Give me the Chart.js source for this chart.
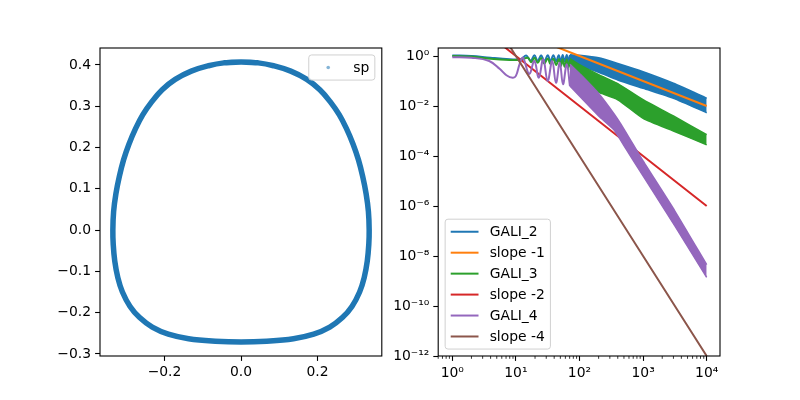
<!DOCTYPE html>
<html>
<head>
<meta charset="utf-8">
<script src="https://cdn.jsdelivr.net/npm/chart.js@4.4.0/dist/chart.umd.min.js"></script>
<style>
  html, body { margin: 0; padding: 0; background: #fff; }
  #wrap { position: relative; width: 800px; height: 400px; overflow: hidden; }
  canvas { position: absolute; top: 0; }
  #left { left: 0; }
  #right { left: 385px; }
</style>
</head>
<body>
<div id="wrap">
  <canvas id="left" width="400" height="400"></canvas>
  <canvas id="right" width="415" height="400"></canvas>
</div>
<script>
// ---------- left panel: surface of section "sp" ----------
const spX = [-0.045, 0, 0.045, 0.085, 0.13, 0.172, 0.206, 0.233, 0.257, 0.276, 0.293, 0.307, 0.318, 0.327, 0.333, 0.335, 0.334, 0.33,
  0.322, 0.31, 0.29, 0.265, 0.232, 0.19, 0.137, 0.067, 0,
  -0.067, -0.137, -0.19, -0.232, -0.265, -0.29, -0.31, -0.322, -0.33, -0.334, -0.335, -0.333, -0.327, -0.318, -0.307, -0.293,
  -0.276, -0.257, -0.233, -0.206, -0.172, -0.13, -0.085, -0.045, 0, 0.045];
const spY = [0.405, 0.407, 0.405, 0.398, 0.385, 0.365, 0.34, 0.311, 0.279, 0.245, 0.208, 0.17, 0.13, 0.088, 0.045, 0.0, -0.035, -0.075,
  -0.115, -0.15, -0.185, -0.212, -0.235, -0.252, -0.263, -0.269, -0.271,
  -0.269, -0.263, -0.252, -0.235, -0.212, -0.185, -0.15, -0.115, -0.075, -0.035, 0.0, 0.045, 0.088, 0.13, 0.17, 0.208,
  0.245, 0.279, 0.311, 0.34, 0.365, 0.385, 0.398, 0.405, 0.407, 0.405];
const leftXTicks = [-0.2, 0.0, 0.2];
const leftYTicks = [-0.3, -0.2, -0.1, 0.0, 0.1, 0.2, 0.3, 0.4];

// ---------- right panel: GALI curves (log-log) ----------
const slopeX = [1, 10, 100, 1000, 10000];
const slope1Y = [100, 10, 1, 0.1, 0.01];
const slope2Y = [100, 1, 0.01, 1e-4, 1e-6];
const slope4Y = [1e4, 1, 1e-4, 1e-8, 1e-12];

// early part: single oscillating trace
const gali2X = [1, 2, 4, 8, 12, 14.5, 17, 19.6, 22, 24.9, 28, 31.7, 35, 38.8, 43, 47.1, 51, 54.4, 58.5, 63, 67, 70.8];
const gali2Y = [1.05, 1.0, 0.85, 0.75, 0.75, 1.05, 0.65, 1.07, 0.63, 1.07, 0.63, 1.07, 0.62, 1.08, 0.62, 1.08, 0.6, 1.1, 0.6, 1.1, 0.58, 1.1];
const gali3X = [1, 2, 4, 8, 12, 15.4, 17.5, 19.6, 22, 24.9, 28, 31.7, 35, 38.8, 43, 47.1, 51, 54.4, 58.5, 63, 67, 70.8];
const gali3Y = [1.0, 0.95, 0.78, 0.7, 0.7, 0.85, 0.56, 0.85, 0.54, 0.83, 0.5, 0.8, 0.47, 0.78, 0.44, 0.76, 0.4, 0.74, 0.37, 0.72, 0.34, 0.7];
const gali4X = [1, 2, 3.8, 5.6, 7.1, 8.9, 10, 11.5, 12.9, 16.2, 19.5, 22.9, 26.9, 31.6, 37.2, 42.7, 49, 55, 63.1, 70.8];
const gali4Y = [0.9, 0.85, 0.63, 0.3, 0.17, 0.135, 0.16, 0.5, 0.85, 0.19, 0.63, 0.135, 0.74, 0.1, 0.63, 0.085, 0.54, 0.074, 0.47, 0.063];

// late part: oscillations too dense to resolve -> upper / lower envelope of the band
const gali2BandX = [70.8, 100, 200, 400, 1000, 3000, 10000];
const gali2Up = [1.12, 1.07, 0.85, 0.5, 0.234, 0.081, 0.0204];
const gali2Lo = [0.56, 0.42, 0.224, 0.11, 0.051, 0.0204, 0.0054];
const gali3BandX = [70.8, 100, 200, 400, 1000, 3000, 10000];
const gali3Up = [0.79, 0.45, 0.18, 0.079, 0.0178, 0.004, 7.1e-4];
const gali3Lo = [0.32, 0.079, 0.035, 0.0178, 0.0032, 0.001, 2.8e-4];
const gali4BandX = [70.8, 100, 200, 350, 500, 1000, 3160, 10000];
const gali4Up = [0.47, 0.2, 0.0316, 0.0048, 0.0012, 6.3e-5, 6.3e-7, 4.5e-9];
const gali4Lo = [0.063, 0.025, 0.004, 0.0011, 2.6e-4, 1.6e-5, 1.6e-7, 1.41e-9];

const rightXTicks = [1, 10, 100, 1000, 10000];
const rightYTicks = [1e-12, 1e-10, 1e-8, 1e-6, 1e-4, 1e-2, 1];

// ---------- helpers ----------
const FS = 13.9;
const FONT = { family: 'DejaVu Sans', size: FS };
Chart.defaults.font.family = 'DejaVu Sans';
Chart.defaults.font.size = FS;
Chart.defaults.color = '#000';

const pts = (xs, ys) => xs.map((x, i) => ({ x, y: ys[i] }));
const SUP = { '0': '⁰', '1': '¹', '2': '²', '3': '³', '4': '⁴', '5': '⁵', '6': '⁶', '7': '⁷', '8': '⁸', '9': '⁹', '-': '⁻' };
const powLabel = v => '10' + String(Math.round(Math.log10(v))).split('').map(c => SUP[c]).join('');
const numLabel = v => (Math.abs(v) < 1e-9 ? 0 : v).toFixed(1).replace('-', '\u2212');

function roundBox(ctx, x, y, w, h, r) {
  ctx.beginPath();
  ctx.moveTo(x + r, y);
  ctx.arcTo(x + w, y, x + w, y + h, r);
  ctx.arcTo(x + w, y + h, x, y + h, r);
  ctx.arcTo(x, y + h, x, y, r);
  ctx.arcTo(x, y, x + w, y, r);
  ctx.closePath();
}

// black frame around the axes (spines)
const frame = {
  id: 'frame',
  afterDraw(chart) {
    const { ctx, chartArea: a } = chart;
    ctx.save();
    ctx.strokeStyle = '#000';
    ctx.lineWidth = 1.1;
    ctx.strokeRect(a.left, a.top, a.right - a.left, a.bottom - a.top);
    ctx.restore();
  }
};

// minor ticks on log x axis
const minorTicks = {
  id: 'minorTicks',
  afterDraw(chart) {
    const sc = chart.scales.x;
    if (sc.type !== 'logarithmic') return;
    const { ctx, chartArea: a } = chart;
    ctx.save();
    ctx.strokeStyle = '#000';
    ctx.lineWidth = 0.8;
    for (let d = -1; d <= 4; d++) {
      for (let m = 2; m <= 9; m++) {
        const v = m * Math.pow(10, d);
        if (v < sc.min || v > sc.max) continue;
        const px = sc.getPixelForValue(v);
        ctx.beginPath();
        ctx.moveTo(px, a.bottom);
        ctx.lineTo(px, a.bottom + 2.8);
        ctx.stroke();
      }
    }
    ctx.restore();
  }
};

// matplotlib-like legend drawn inside the axes
const boxLegend = {
  id: 'boxLegend',
  afterDraw(chart, args, opts) {
    const items = chart.data.datasets.filter(d => d.inLegend);
    const { ctx, chartArea: a } = chart;
    ctx.save();
    ctx.font = FS + 'px "DejaVu Sans"';
    const textW = Math.max(...items.map(d => ctx.measureText(d.label).width));
    const pad = 0.4 * FS, handleLen = 2 * FS, handlePad = 0.8 * FS, rowH = 14, gap = 0.5 * FS, axPad = 0.5 * FS;
    const w = 2 * pad + handleLen + handlePad + textW;
    const h = 2 * pad + items.length * rowH + (items.length - 1) * gap;
    let x0, y0;
    if (opts.loc === 'upper right') { x0 = a.right - axPad - w; y0 = a.top + axPad; }
    else { x0 = a.left + axPad; y0 = a.bottom - axPad - h; }
    roundBox(ctx, x0, y0, w, h, 2.8);
    ctx.fillStyle = 'rgba(255,255,255,0.8)';
    ctx.fill();
    ctx.strokeStyle = '#d0d0d0';
    ctx.lineWidth = 1;
    ctx.stroke();
    items.forEach((d, i) => {
      const cy = y0 + pad + i * (rowH + gap) + rowH / 2;
      const hx = x0 + pad;
      if (d.legendDot) {
        ctx.fillStyle = 'rgba(31,119,180,0.55)';
        ctx.beginPath();
        ctx.arc(hx + handleLen / 2, cy, 1.8, 0, Math.PI * 2);
        ctx.fill();
      } else {
        ctx.strokeStyle = d.borderColor;
        ctx.lineWidth = 2;
        ctx.beginPath();
        ctx.moveTo(hx, cy);
        ctx.lineTo(hx + handleLen, cy);
        ctx.stroke();
      }
      ctx.fillStyle = '#000';
      ctx.textBaseline = 'middle';
      ctx.textAlign = 'left';
      ctx.fillText(d.label, hx + handleLen + handlePad, cy + 1);
    });
    ctx.restore();
  }
};

function axisOpts(type, min, max, ticks, fmt, fitKey, fitVal, pad) {
  return {
    type, min, max,
    grid: { display: true, drawOnChartArea: false, drawTicks: true, tickLength: 4.9, tickWidth: 1.1, tickColor: '#000' },
    border: { display: false },
    ticks: { font: FONT, color: '#000', padding: pad, autoSkip: false, maxRotation: 0, callback: v => fmt(v) },
    afterBuildTicks: s => { s.ticks = ticks.map(v => ({ value: v })); },
    afterFit: s => { s[fitKey] = fitVal; }
  };
}

// ---------- left chart ----------
new Chart(document.getElementById('left'), {
  type: 'line',
  data: {
    datasets: [{
      label: 'sp', data: pts(spX, spY), borderColor: '#1f77b4', borderWidth: 5.5,
      tension: 0.4, borderJoinStyle: 'round', inLegend: true, legendDot: true
    }]
  },
  options: {
    responsive: false, animation: false, devicePixelRatio: 1,
    layout: { padding: { left: 0, right: 18.2, top: 48, bottom: 0 } },
    elements: { point: { radius: 0 } },
    plugins: { legend: { display: false }, tooltip: { enabled: false }, boxLegend: { loc: 'upper right' } },
    scales: {
      x: axisOpts('linear', -0.3686, 0.368, leftXTicks, numLabel, 'height', 44, 3),
      y: axisOpts('linear', -0.305, 0.441, leftYTicks, numLabel, 'width', 100, 4)
    }
  },
  plugins: [frame, boxLegend]
});

// ---------- right chart ----------
const C = { blue: '#1f77b4', orange: '#ff7f0e', green: '#2ca02c', red: '#d62728', purple: '#9467bd', brown: '#8c564b' };
const line = (label, xs, ys, color, tension) => ({ label, data: pts(xs, ys), borderColor: color, borderWidth: 2, tension, inLegend: true });
const edge = (xs, ys, color, fill) => ({ data: pts(xs, ys), borderColor: color, borderWidth: 1.5, backgroundColor: color, fill: fill ? '-1' : false, tension: 0.2 });

const rightSets = [
  line('GALI_2', gali2X, gali2Y, C.blue, 0.4),
  edge(gali2BandX, gali2Up, C.blue, false),
  edge(gali2BandX, gali2Lo, C.blue, true),
  line('slope -1', slopeX, slope1Y, C.orange, 0),
  line('GALI_3', gali3X, gali3Y, C.green, 0.4),
  edge(gali3BandX, gali3Up, C.green, false),
  edge(gali3BandX, gali3Lo, C.green, true),
  line('slope -2', slopeX, slope2Y, C.red, 0),
  line('GALI_4', gali4X, gali4Y, C.purple, 0.4),
  edge(gali4BandX, gali4Up, C.purple, false),
  edge(gali4BandX, gali4Lo, C.purple, true),
  line('slope -4', slopeX, slope4Y, C.brown, 0)
];
// later datasets drawn on top, like matplotlib
rightSets.forEach((d, i) => { d.order = rightSets.length - i; });

new Chart(document.getElementById('right'), {
  type: 'line',
  data: { datasets: rightSets },
  options: {
    responsive: false, animation: false, devicePixelRatio: 1,
    layout: { padding: { left: 0, right: 80, top: 48, bottom: 0 } },
    elements: { point: { radius: 0 } },
    plugins: { legend: { display: false }, tooltip: { enabled: false }, boxLegend: { loc: 'lower left' } },
    scales: {
      x: axisOpts('logarithmic', 0.64, 16200, rightXTicks, powLabel, 'height', 44, 4),
      y: axisOpts('logarithmic', 1e-12, 2.09, rightYTicks, powLabel, 'width', 53.2, 4)
    }
  },
  plugins: [frame, minorTicks, boxLegend]
});
</script>
</body>
</html>
